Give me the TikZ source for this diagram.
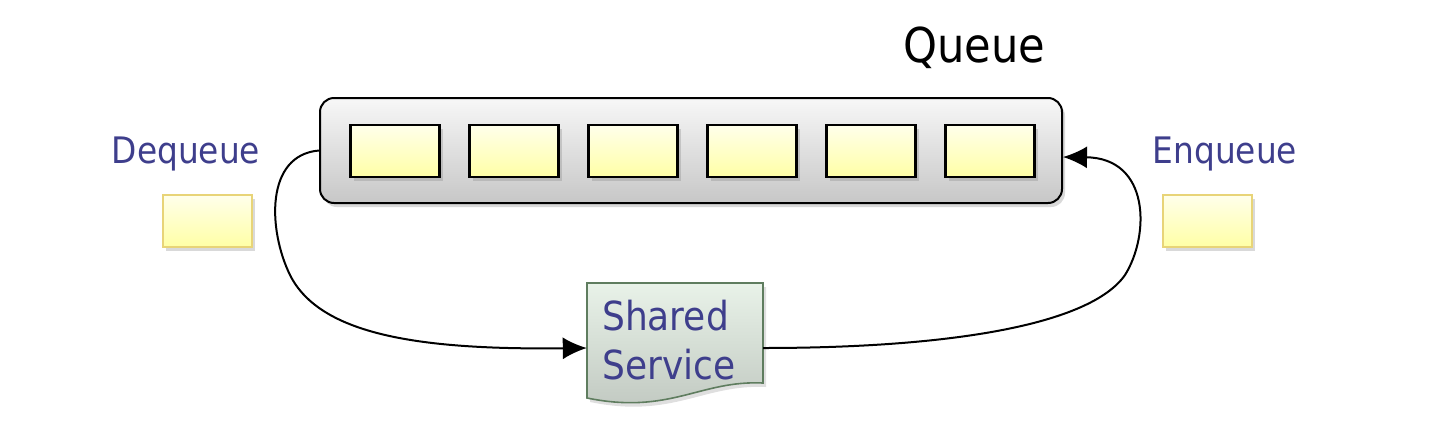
\documentclass[tikz,border=0pt]{standalone}
\usepackage{fontspec}
\setmainfont{DejaVu Sans Condensed}
\usetikzlibrary{shadows,calc,arrows.meta}
\definecolor{lbl}{RGB}{62,62,140}
\definecolor{ssborder}{RGB}{95,125,95}
\definecolor{ygborder}{RGB}{232,212,120}
\begin{document}
\begin{tikzpicture}[x=1pt,y=-1pt,
  qbox/.style={draw=black, line width=2pt, rounded corners=14pt, top color=white!97!black, bottom color=black!22,
     minimum width=742pt, minimum height=105pt, inner sep=0pt,
     drop shadow={shadow xshift=3pt, shadow yshift=-4pt, opacity=0.3}},
  item/.style={draw=black, line width=2.2pt, top color=yellow!8, bottom color=yellow!35,
     minimum width=89pt, minimum height=52pt, inner sep=0pt,
     drop shadow={shadow xshift=3pt, shadow yshift=-4pt, opacity=0.3}},
  freeitem/.style={item, draw=ygborder},
  lbltext/.style={text=lbl, font=\fontsize{36.5}{43}\selectfont, inner sep=0pt},
  conn/.style={draw=black, line width=2pt, -{Latex[length=24pt,width=22pt]}},
]
\useasboundingbox (0,0) rectangle (1450,429);
\node[font=\fontsize{48}{56}\selectfont, inner sep=0pt] (qlabel) at (974,48) {Queue};
\node[qbox] (qb) at (691,150.5) {};
\foreach \i in {0,...,5}{
  \node[item] (it\i) at (395+119*\i,151) {};
}
\node[lbltext] (deq) at (186,154) {Dequeue};
\node[lbltext] (enq) at (1225,154) {Enqueue};
\node[freeitem] (dbox) at (207.5,221) {};
\node[freeitem] (ebox) at (1207.5,221) {};
% shared service document
\node[minimum width=176pt, minimum height=130pt, inner sep=0pt] (ss) at (675,348) {};
\path[draw=ssborder, line width=1.6pt, top color=green!4!white!95!black, bottom color=green!12!black!25!white,
  drop shadow={shadow xshift=3pt, shadow yshift=-4pt, opacity=0.25}]
  (587,283) -- (763,283) -- (763,383)
  .. controls (700,380) and (670,415) .. (587,398) -- cycle;
\node[text=lbl, font=\fontsize{40}{49}\selectfont, align=left, anchor=north west, inner sep=0pt] (sstext) at (602,300) {Shared\\Service};
\draw[conn] (qb.west) .. controls (265,155) and (268,230) .. (290,275)
   .. controls (320,335) and (420,350) .. (ss.west);
\draw[conn] (ss.east) .. controls (950,348) and (1090,325) .. (1125,275)
   .. controls (1150,235) and (1150,158) .. ($(qb.east)+(0,6.5)$);
\end{tikzpicture}
\end{document}
